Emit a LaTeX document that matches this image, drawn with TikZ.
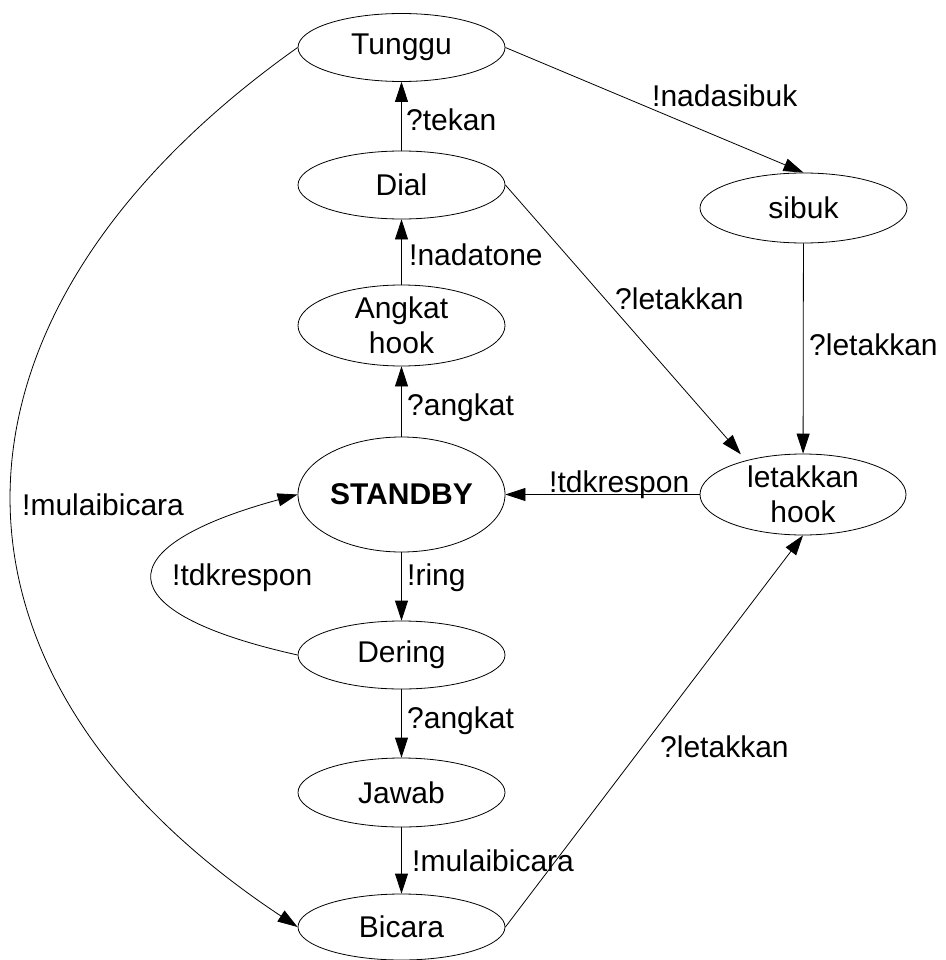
\documentclass[tikz,border=0pt]{standalone}
\usepackage{fontspec}
\setmainfont{Liberation Sans}
\usetikzlibrary{shapes.geometric,arrows.meta}
\begin{document}
\begin{tikzpicture}[x=1pt,y=-1pt,
  every node/.style={font=\fontsize{30}{35}\selectfont},
  state/.style={draw=black, line width=0.8pt, ellipse, inner sep=0pt, minimum width=207pt, minimum height=68pt, align=center},
  arr/.style={draw=black, line width=0.8pt, -{Triangle[length=20pt,width=13pt]}},
  lbl/.style={inner sep=0pt, anchor=base west}
]
\useasboundingbox[fill=white] (0,0) rectangle (945,960);

% states
\node[state] (Tunggu) at (401.5,47.5) {Tunggu};
\node[state] (Dial) at (401.5,185) {Dial};
\node[state, minimum height=81pt] (Angkat) at (401.5,325.5) {Angkat\\hook};
\node[state, minimum height=115pt] (Standby) at (401.5,494.5) {\bfseries STANDBY};
\node[state] (Dering) at (401.5,655) {Dering};
\node[state, minimum height=69pt] (Jawab) at (401.5,792.5) {Jawab};
\node[state, minimum height=66pt] (Bicara) at (401.5,927) {Bicara};
\node[state, minimum height=70pt] (Sibuk) at (803.5,208) {sibuk};
\node[state, minimum width=206pt, minimum height=81pt] (Letakkan) at (803,494.5) {letakkan\\hook};

% connectors
\draw[arr] (Dial) -- (Tunggu);
\draw[arr] (Angkat) -- (Dial);
\draw[arr] (Standby) -- (Angkat);
\draw[arr] (Standby) -- (Dering);
\draw[arr] (Dering) -- (Jawab);
\draw[arr] (Jawab) -- (Bicara);
\draw[arr] (Tunggu.east) -- (Sibuk.north);
\draw[arr] (Sibuk) -- (Letakkan);
\draw[arr, shorten >=8pt] (Dial.east) -- (Letakkan.149);
\draw[arr] (Letakkan.west) -- (Standby.east);
\draw[arr] (Bicara.east) -- (Letakkan.south);
\draw[arr] (Dering.west) .. controls (105,612) and (105,547) .. (Standby.west);
\draw[arr] (Tunggu.west) .. controls (-81,316) and (-85,674) .. (Bicara.west);

% labels
\node[lbl] (l1) at (406,131) {?tekan};
\node[lbl] (l2) at (409,265) {!nadatone};
\node[lbl] (l3) at (407,415) {?angkat};
\node[lbl] (l4) at (407,585) {!ring};
\node[lbl] (l5) at (407,728) {?angkat};
\node[lbl] (l6) at (412,871) {!mulaibicara};
\node[lbl] (l7) at (652,107) {!nadasibuk};
\node[lbl] (l8) at (615,309) {?letakkan};
\node[lbl] (l9) at (809,355) {?letakkan};
\node[lbl] (l10) at (549,492) {!tdkrespon};
\node[lbl] (l11) at (22,515) {!mulaibicara};
\node[lbl] (l12) at (172,585) {!tdkrespon};
\node[lbl] (l13) at (660,757) {?letakkan};
\end{tikzpicture}
\end{document}
